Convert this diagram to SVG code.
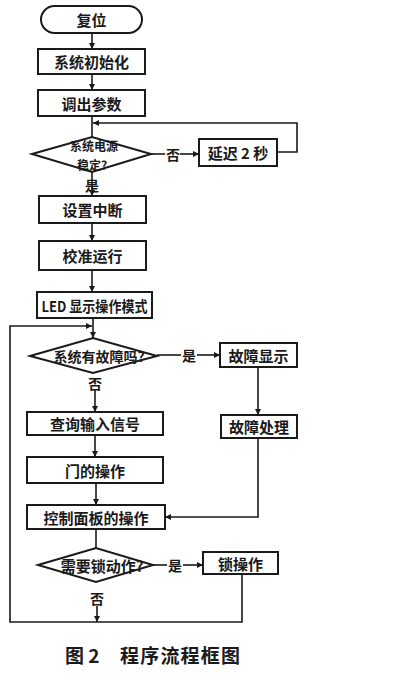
<svg xmlns="http://www.w3.org/2000/svg" width="418" height="700" viewBox="0 0 418 700">
<defs>
<marker id="ah" viewBox="0 0 10 10" refX="10" refY="5" markerWidth="6" markerHeight="6" markerUnits="userSpaceOnUse" orient="auto">
<path d="M0,0 L10,5 L0,10 z" fill="#1a1a1a"/>
</marker>
</defs>
<style>
.box{fill:#fff;stroke:#1a1a1a;stroke-width:2}
.ln{fill:none;stroke:#1a1a1a;stroke-width:1.6}
.arr{fill:none;stroke:#1a1a1a;stroke-width:1.6;marker-end:url(#ah)}
.t{font-family:"Noto Sans CJK SC","Liberation Serif",sans-serif;font-weight:700;font-size:15px;fill:#1a1a1a;text-anchor:middle;dominant-baseline:central}
.s{font-size:14px}
.d{font-size:12px}
.lb{font-family:"Noto Sans CJK SC","Liberation Serif",sans-serif;font-weight:700;font-size:14px;fill:#1a1a1a;text-anchor:middle;dominant-baseline:central}
.cap{font-family:"Noto Sans CJK SC","Liberation Serif",sans-serif;font-weight:700;font-size:19px;fill:#1a1a1a;dominant-baseline:central}
</style>
<rect width="418" height="700" fill="#fff"/>
<g id="connectors">
<line class="arr" x1="92" y1="33" x2="92" y2="49"/>
<line class="arr" x1="92" y1="74" x2="92" y2="90"/>
<line class="ln" x1="92" y1="116" x2="92" y2="137"/>
<polyline class="arr" points="277,152 297,152 297,123 93,123"/>
<line class="ln" x1="151" y1="154" x2="165" y2="154"/>
<line class="arr" x1="180" y1="154" x2="199" y2="154"/>
<line class="arr" x1="92" y1="172" x2="92" y2="196"/>
<line class="arr" x1="92" y1="223" x2="92" y2="241"/>
<line class="arr" x1="92" y1="270" x2="92" y2="292"/>
<line class="arr" x1="93" y1="318" x2="93" y2="338"/>
<polyline class="arr" points="97,622 10,622 10,326 92,326"/>
<line class="ln" x1="157" y1="355" x2="181" y2="355"/>
<line class="arr" x1="197" y1="355" x2="220" y2="355"/>
<line class="arr" x1="258" y1="367" x2="258" y2="415"/>
<polyline class="arr" points="258,438 258,517 165,517"/>
<line class="arr" x1="95" y1="390" x2="95" y2="412"/>
<line class="arr" x1="95" y1="435" x2="95" y2="457"/>
<line class="arr" x1="96" y1="483" x2="96" y2="505"/>
<line class="ln" x1="96" y1="529" x2="96" y2="548"/>
<line class="ln" x1="153" y1="565" x2="167" y2="565"/>
<line class="arr" x1="183" y1="565" x2="203" y2="565"/>
<polyline class="ln" points="242,574 242,622 97,622"/>
<line class="arr" x1="97" y1="606" x2="97" y2="622"/>
</g>
<g id="n-reset"><rect class="box" x="41" y="6" width="101" height="27" rx="13.5"/><text class="t" x="91.5" y="19.5">复位</text></g>
<g id="n-init"><rect class="box" x="38" y="49" width="107" height="25"/><text class="t" x="91.5" y="61.5">系统初始化</text></g>
<g id="n-param"><rect class="box" x="38" y="90" width="107" height="26"/><text class="t" x="91.5" y="103">调出参数</text></g>
<g id="n-power"><polygon class="box" points="32,154 92,137 151,154 92,172"/><text class="t d" x="94" y="145">系统电源</text><text class="t d" x="92" y="164">稳定?</text></g>
<g id="n-delay"><rect class="box" x="199" y="139" width="78" height="27"/><text class="t" x="238" y="152.5">延迟 2 秒</text></g>
<g id="n-int"><rect class="box" x="39" y="196" width="107" height="27"/><text class="t" x="92.5" y="209.5">设置中断</text></g>
<g id="n-cal"><rect class="box" x="39" y="241" width="107" height="29"/><text class="t" x="92.5" y="255.5">校准运行</text></g>
<g id="n-led"><rect class="box" x="37" y="292" width="115" height="26"/><text class="t" x="94.5" y="305" font-size="13" textLength="106" lengthAdjust="spacingAndGlyphs">LED 显示操作模式</text></g>
<g id="n-fault"><polygon class="box" points="30,356 93,338 157,356 93,373"/><text class="t s" x="99" y="356">系统有故障吗?</text></g>
<g id="n-fdisp"><rect class="box" x="220" y="343" width="77" height="24"/><text class="t" x="258.5" y="355">故障显示</text></g>
<g id="n-fproc"><rect class="box" x="221" y="415" width="76" height="23"/><text class="t" x="259" y="426.5">故障处理</text></g>
<g id="n-query"><rect class="box" x="27" y="412" width="136" height="23"/><text class="t" x="95" y="423.5">查询输入信号</text></g>
<g id="n-door"><rect class="box" x="27" y="457" width="136" height="26"/><text class="t" x="95" y="470">门的操作</text></g>
<g id="n-panel"><rect class="box" x="27" y="505" width="138" height="24"/><text class="t" x="96" y="517">控制面板的操作</text></g>
<g id="n-lockq"><polygon class="box" points="38,565 96,548 153,565 96,582"/><text class="t" x="102" y="565">需要锁动作?</text></g>
<g id="n-lock"><rect class="box" x="203" y="552" width="75" height="22"/><text class="t" x="240.5" y="563">锁操作</text></g>
<g id="labels">
<text class="lb" x="173" y="154">否</text>
<text class="lb" x="92" y="185">是</text>
<text class="lb" x="189" y="355">是</text>
<text class="lb" x="95" y="383">否</text>
<text class="lb" x="175" y="565">是</text>
<text class="lb" x="97" y="598">否</text>
</g>
<g id="caption">
<text class="cap" x="65" y="654">图 2</text>
<text class="cap" x="120" y="654" textLength="120">程序流程框图</text>
</g>
</svg>
